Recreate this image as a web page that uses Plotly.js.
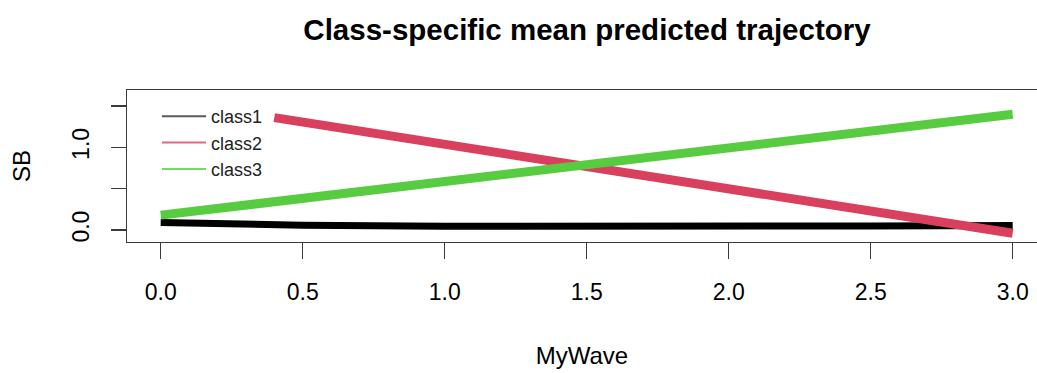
<!DOCTYPE html>
<html>
<head>
<meta charset="utf-8">
<script src="https://cdn.plot.ly/plotly-3.0.1.min.js"></script>
<style>html,body{margin:0;padding:0;background:#fff;}#chart{width:1037px;height:373px;}</style>
</head>
<body>
<div id="chart"></div>
<script>
// Data
var classNames = ["class1", "class2", "class3"];
var classColors = ["#000000", "#D9405E", "#58CC41"];
var waveClass1 = [0, 0.25, 0.5, 1.0, 1.5, 2.0, 2.5, 3.0];
var sbClass1 = [0.09, 0.07, 0.058, 0.046, 0.042, 0.042, 0.048, 0.055];
var waveClass2 = [0.4, 1.0, 1.5, 2.0, 2.5, 3.0];
var sbClass2 = [1.36, 1.037, 0.768, 0.499, 0.23, -0.04];
var waveClass3 = [0, 0.5, 1.0, 1.5, 2.0, 2.5, 3.0];
var sbClass3 = [0.18, 0.383, 0.587, 0.79, 0.994, 1.197, 1.40];
var xTickVals = [0, 0.5, 1.0, 1.5, 2.0, 2.5, 3.0];
var xTickText = ["0.0", "0.5", "1.0", "1.5", "2.0", "2.5", "3.0"];
var yTickVals = [0, 0.5, 1.0, 1.5];
var yTickText = ["0.0", "", "1.0", ""];

var font = "Liberation Sans, Arial, sans-serif";
var waves = [waveClass1, waveClass2, waveClass3];
var sbs = [sbClass1, sbClass2, sbClass3];
var widths = [7, 9, 9];

var traces = [];
for (var i = 0; i < 3; i++) {
  traces.push({
    x: waves[i], y: sbs[i], type: "scatter", mode: "lines",
    line: {color: classColors[i], width: widths[i]},
    showlegend: false, hoverinfo: "skip"
  });
}
for (var j = 0; j < 3; j++) {
  traces.push({
    x: [null], y: [null], type: "scatter", mode: "lines",
    name: classNames[j],
    line: {color: classColors[j], width: 2},
    opacity: j === 0 ? 0.65 : 0.8,
    showlegend: true
  });
}

var axisColor = "#3a3a3a";
var layout = {
  width: 1037, height: 373,
  margin: {l: 127, r: 0, t: 90, b: 131, pad: 0},
  paper_bgcolor: "#ffffff", plot_bgcolor: "#ffffff",
  font: {family: font, color: "#000000", size: 23},
  title: {
    text: "<b>Class-specific mean predicted trajectory</b>",
    font: {family: font, size: 29.5, color: "#000000"},
    xref: "container", yref: "container",
    x: 587 / 1037, xanchor: "center",
    y: 1 - 30 / 373, yanchor: "middle"
  },
  xaxis: {
    range: [-0.1187, 3.0856], autorange: false,
    tickmode: "array", tickvals: xTickVals, ticktext: xTickText,
    ticks: "outside", ticklen: 16, tickwidth: 1.2, tickcolor: axisColor,
    showline: true, linecolor: axisColor, linewidth: 1.2, mirror: true,
    showgrid: false, zeroline: false,
    tickfont: {family: font, size: 23, color: "#000000"},
    ticklabelstandoff: 13,
    title: {text: "MyWave", font: {family: font, size: 24, color: "#000000"}, standoff: 43}
  },
  yaxis: {
    range: [-0.145, 1.694], autorange: false,
    tickmode: "array", tickvals: yTickVals, ticktext: yTickText,
    ticks: "outside", ticklen: 15, tickwidth: 1.2, tickcolor: axisColor,
    showline: true, linecolor: axisColor, linewidth: 1.2, mirror: false,
    showgrid: false, zeroline: false,
    tickangle: -90,
    tickfont: {family: font, size: 23, color: "#000000"},
    ticklabelstandoff: 13,
    title: {text: "SB", font: {family: font, size: 24, color: "#000000"}, standoff: 30}
  },
  showlegend: true,
  legend: {
    x: (157 - 127) / 910, xanchor: "left",
    y: (242 - 98) / 152, yanchor: "top",
    bgcolor: "rgba(0,0,0,0)", borderwidth: 0,
    font: {family: font, size: 18, color: "#222222"},
    tracegroupgap: 0, itemwidth: 44
  }
};

Plotly.newPlot("chart", traces, layout, {displayModeBar: false, staticPlot: true});
</script>
</body>
</html>
